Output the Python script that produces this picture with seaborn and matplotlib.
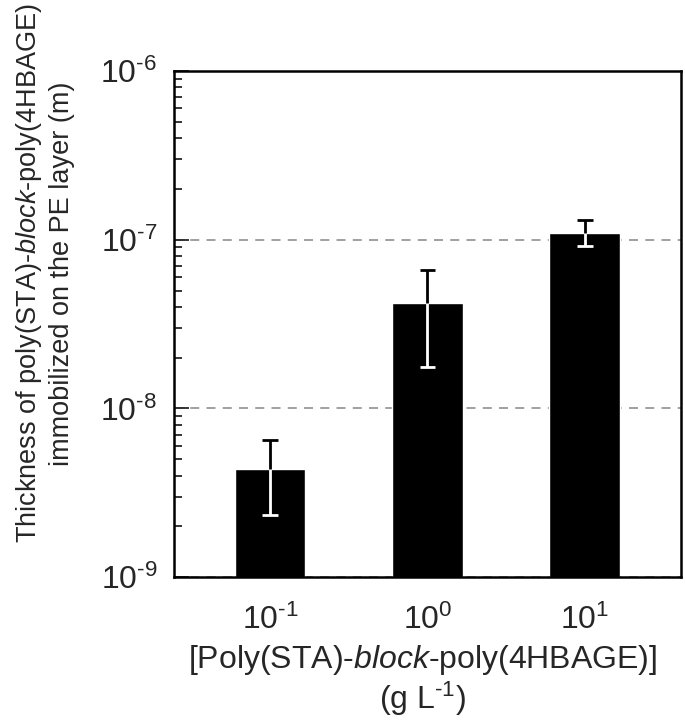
import matplotlib
matplotlib.use('Agg')
from matplotlib import pyplot as plt
from matplotlib.ticker import LogLocator, NullFormatter, FixedLocator, FixedFormatter
import pandas as pd
import seaborn as sns

# values
concentrations = ['10$^{\u20101}$', '10$^{0}$', '10$^{1}$']
thickness = [4.4e-9, 4.2e-8, 1.1e-7]
err_low = [2.35e-9, 1.75e-8, 9.2e-8]
err_high = [6.5e-9, 6.6e-8, 1.31e-7]
y_ticks = [1e-9, 1e-8, 1e-7, 1e-6]
y_ticklabels = ['10$^{\u20109}$', '10$^{\u20108}$', '10$^{\u20107}$', '10$^{\u20106}$']

df = pd.DataFrame({'conc': concentrations, 'thickness': thickness})

sns.set_style('white')
plt.rcParams['font.family'] = ['Liberation Sans', 'DejaVu Sans']
plt.rcParams['mathtext.fontset'] = 'custom'
plt.rcParams['mathtext.rm'] = 'Liberation Sans'
plt.rcParams['mathtext.it'] = 'Liberation Sans:italic'
plt.rcParams['mathtext.default'] = 'regular'

f = plt.figure(figsize=(6.85, 7.25), dpi=100)
ax = f.add_axes([0.254, 0.204, 0.740, 0.698])
ax.set_yscale('log')

sns.barplot(data=df, x='conc', y='thickness', color='black', width=0.45,
            saturation=1, ax=ax, zorder=2)
ax.set_ylim(1e-9, 1e-6)
ax.set_xlim(-0.61, 2.61)

# error bars: white inside the bar, black above it
xs = range(len(thickness))
cap = 0.05
ax.vlines(xs, err_low, thickness, colors='white', lw=2, zorder=3)
ax.hlines(err_low, [x - cap for x in xs], [x + cap for x in xs], colors='white', lw=2, zorder=3)
ax.vlines(xs, thickness, err_high, colors='black', lw=2, zorder=3)
ax.hlines(err_high, [x - cap for x in xs], [x + cap for x in xs], colors='black', lw=2, zorder=3)

ax.yaxis.grid(True, which='major', linestyle=(0, (5, 4)), color='#999999', lw=1.3)
ax.set_axisbelow(True)

ax.yaxis.set_major_locator(FixedLocator(y_ticks))
ax.yaxis.set_major_formatter(FixedFormatter(y_ticklabels))
ax.yaxis.set_minor_locator(LogLocator(base=10, subs=range(2, 10)))
ax.yaxis.set_minor_formatter(NullFormatter())
ax.tick_params(axis='y', which='major', direction='in', length=11, width=1.3,
               labelsize=23, pad=12, left=True)
ax.tick_params(axis='y', which='minor', direction='in', length=6, width=1.3, left=True)
ax.tick_params(axis='x', length=0, labelsize=23, pad=20)

for s in ax.spines.values():
    s.set_color('black')
    s.set_linewidth(1.8)

ax.set_xlabel('[Poly(STA)-$\\it{block}$-poly(4HBAGE)]\n(g L$^{\u20101}$)', fontsize=23,
              linespacing=1.1)
ax.xaxis.set_label_coords(0.49, -0.13)
ax.set_ylabel('Thickness of poly(STA)-$\\it{block}$-poly(4HBAGE)\nimmobilized on the PE layer (m)',
              fontsize=19.5, linespacing=1.25)
ax.yaxis.set_label_coords(-0.195, 0.60)

f.savefig('out.png', dpi=100)
